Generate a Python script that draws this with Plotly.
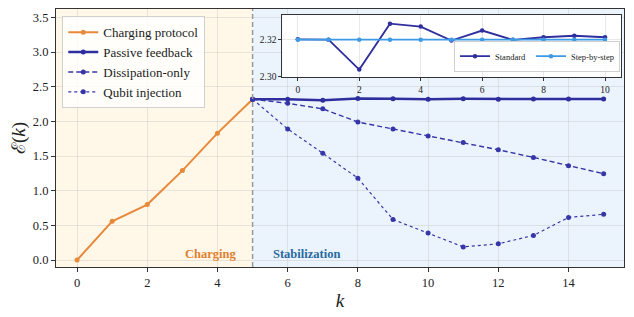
import plotly.graph_objects as go

# ---- data ----
k_charge = [0, 1, 2, 3, 4, 5]
e_charge = [0.0, 0.56, 0.80, 1.29, 1.83, 2.32]

k_stab = [5, 6, 7, 8, 9, 10, 11, 12, 13, 14, 15]
e_passive = [2.320, 2.320, 2.304, 2.328, 2.327, 2.319, 2.325, 2.320, 2.321, 2.322, 2.321]
e_dissip = [2.32, 2.26, 2.18, 1.99, 1.89, 1.79, 1.695, 1.59, 1.48, 1.36, 1.245]
e_qubit = [2.32, 1.89, 1.54, 1.18, 0.585, 0.39, 0.19, 0.235, 0.355, 0.615, 0.66]

inset_x = [0, 1, 2, 3, 4, 5, 6, 7, 8, 9, 10]
inset_standard = [2.3200, 2.3198, 2.3038, 2.3284, 2.3268, 2.3193, 2.3247, 2.3197, 2.3211, 2.3219, 2.3211]
inset_step = [2.3198] * 11

main_xticks = [0, 2, 4, 6, 8, 10, 12, 14]
main_yticks = [0.0, 0.5, 1.0, 1.5, 2.0, 2.5, 3.0, 3.5]
inset_xticks = [0, 2, 4, 6, 8, 10]
inset_yticks = [2.30, 2.32]

ORANGE = "#e8893a"
NAVY = "#2e2e9e"
NAVY2 = "#3636a8"
LIGHTBLUE = "#3d9be6"
FONT = "Liberation Serif"

fig = go.Figure()

fig.add_trace(go.Scatter(x=k_charge, y=e_charge, mode="lines+markers", name="Charging protocol",
                         line=dict(color=ORANGE, width=2), marker=dict(size=5, color=ORANGE),
                         xaxis="x", yaxis="y", legend="legend"))
fig.add_trace(go.Scatter(x=k_stab, y=e_passive, mode="lines+markers", name="Passive feedback",
                         line=dict(color=NAVY, width=2.5), marker=dict(size=5, color=NAVY),
                         xaxis="x", yaxis="y", legend="legend"))
fig.add_trace(go.Scatter(x=k_stab, y=e_dissip, mode="lines+markers", name="Dissipation-only",
                         line=dict(color=NAVY2, width=1.4, dash="5px,3px"), marker=dict(size=5, color=NAVY2),
                         xaxis="x", yaxis="y", legend="legend"))
fig.add_trace(go.Scatter(x=k_stab, y=e_qubit, mode="lines+markers", name="Qubit injection",
                         line=dict(color=NAVY2, width=1.2, dash="dot"), marker=dict(size=5, color=NAVY2),
                         xaxis="x", yaxis="y", legend="legend"))

fig.add_trace(go.Scatter(x=inset_x, y=inset_standard, mode="lines+markers", name="Standard",
                         line=dict(color=NAVY, width=1.8), marker=dict(size=4.5, color=NAVY),
                         xaxis="x2", yaxis="y2", legend="legend2"))
fig.add_trace(go.Scatter(x=inset_x, y=inset_step, mode="lines+markers", name="Step-by-step",
                         line=dict(color=LIGHTBLUE, width=1.8), marker=dict(size=4.5, color=LIGHTBLUE),
                         xaxis="x2", yaxis="y2", legend="legend2"))

shapes = [
    dict(type="rect", xref="x", yref="y domain", x0=-1, x1=5, y0=0, y1=1,
         fillcolor="#fff8e9", line=dict(width=0), layer="below"),
    dict(type="rect", xref="x", yref="y domain", x0=5, x1=16, y0=0, y1=1,
         fillcolor="#ebf4fd", line=dict(width=0), layer="below"),
    dict(type="line", xref="x", yref="y domain", x0=5, x1=5, y0=0, y1=1,
         line=dict(color="#999999", width=1.5, dash="5px,3px"), layer="above"),
    dict(type="rect", xref="x2 domain", yref="y2 domain", x0=0, x1=1, y0=0, y1=1,
         fillcolor="#f3f8fe", line=dict(width=0), layer="below"),
]

annotations = [
    dict(x=4.58, y=0.085, xref="x", yref="y", text="<b>Charging</b>", showarrow=False,
         xanchor="right", yanchor="middle", font=dict(family=FONT, size=12.5, color="#e0802f")),
    dict(x=5.53, y=0.085, xref="x", yref="y", text="<b>Stabilization</b>", showarrow=False,
         xanchor="left", yanchor="middle", font=dict(family=FONT, size=12.5, color="#2a6a9e")),
]

axis_common = dict(showline=True, linecolor="#333333", linewidth=1.2, mirror=True, automargin=False,
                   ticks="outside", ticklen=4, tickcolor="#333333", gridcolor="rgba(180,180,180,0.3)",
                   zeroline=False, tickfont=dict(family=FONT, size=12.5, color="#222222"))
inset_common = dict(showline=True, linecolor="#333333", linewidth=1.2, mirror=True, automargin=False,
                    ticks="outside", ticklen=3, tickcolor="#333333", gridcolor="rgba(180,180,180,0.3)",
                    zeroline=False, tickfont=dict(family=FONT, size=9.5, color="#222222"))

# page body has an 8px default margin: compensate in figure size / margins
fig.update_layout(
    width=626, height=309,
    margin=dict(l=48, r=10, t=1, b=50),
    paper_bgcolor="white", plot_bgcolor="white",
    font=dict(family=FONT, color="#222222"),
    shapes=shapes, annotations=annotations,
    xaxis=dict(range=[-0.6, 15.58], tickvals=main_xticks, domain=[0, 1],
               title=dict(text="<i>k</i>", font=dict(family=FONT, size=19), standoff=4), **axis_common),
    yaxis=dict(range=[-0.1, 3.62], tickvals=main_yticks, tickformat=".1f", domain=[0, 1],
               title=dict(text="ℰ(<i>k</i>)", font=dict(family=FONT, size=19), standoff=8), **axis_common),
    xaxis2=dict(range=[-0.5, 10.52], tickvals=inset_xticks, domain=[0.3987, 0.9947], anchor="y2",
                **inset_common),
    yaxis2=dict(range=[2.2998, 2.3332], tickvals=inset_yticks, tickformat=".2f", domain=[0.7364, 0.978],
                anchor="x2", **inset_common),
    legend=dict(x=0.011, y=0.972, xanchor="left", yanchor="top",
                bgcolor="rgba(255,255,255,0.8)", bordercolor="#d0d0d0", borderwidth=1,
                font=dict(family=FONT, size=13, color="#222222"), tracegroupgap=0,
                itemwidth=30),
    legend2=dict(x=0.993, y=0.757, xanchor="right", yanchor="bottom", orientation="h",
                 bgcolor="rgba(255,255,255,0.85)", bordercolor="#d0d0d0", borderwidth=1,
                 font=dict(family=FONT, size=8.5, color="#222222"), itemwidth=30),
)

fig.write_html("out.html")
